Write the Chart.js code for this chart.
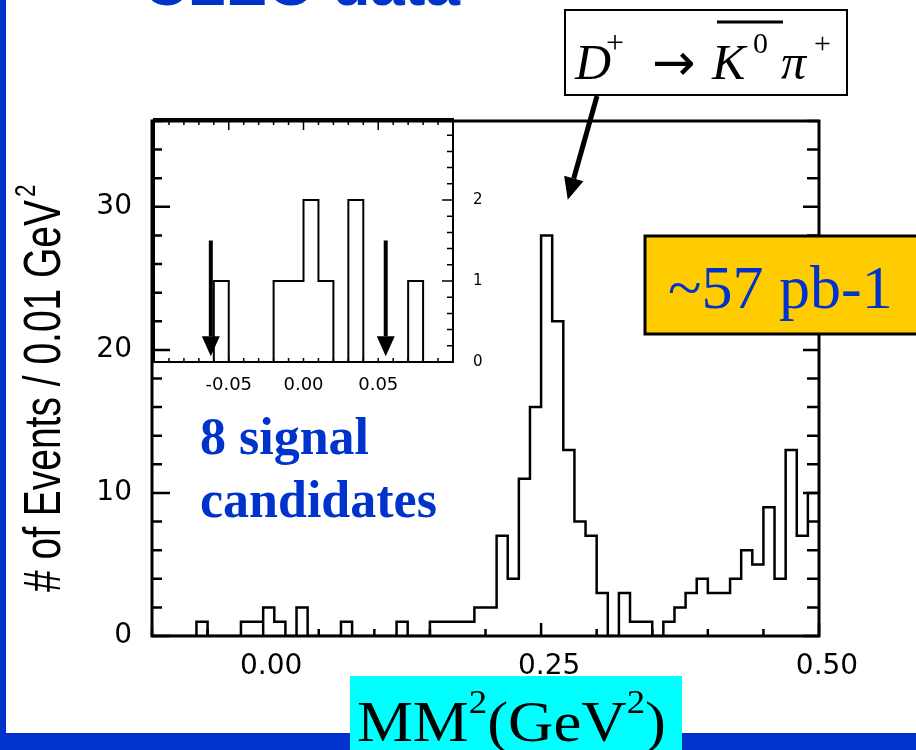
<!DOCTYPE html>
<html>
<head>
<meta charset="utf-8">
<title>CLEO data - missing mass squared</title>
<script src="https://cdn.jsdelivr.net/npm/chart.js@4"></script>
<style>
  body { margin: 0; background: #fff; }
  #wrap { position: relative; width: 916px; height: 750px; overflow: hidden; }
  #wrap canvas { position: absolute; left: 0; top: 0; }
</style>
</head>
<body>
<div id="wrap">
  <canvas id="mainChart" width="916" height="750"></canvas>
  <canvas id="insetChart" width="916" height="750"></canvas>
</div>
<script>
// MM^2 histogram, bins of 0.01 GeV^2 starting at -0.10
const binStart = -0.1;
const binWidth = 0.01;
const eventCounts = [
  0, 0, 0, 0, 1, 0, 0, 0, 1, 1,
  2, 1, 0, 2, 0, 0, 0, 1, 0, 0,
  0, 0, 1, 0, 0, 1, 1, 1, 1, 2,
  2, 7, 4, 11, 16, 28, 22, 13, 8, 7,
  3, 0, 3, 1, 1, 0, 1, 2, 3, 4,
  3, 3, 4, 6, 5, 9, 4, 13, 7, 10
];

const xTickValues = [0, 0.25, 0.5];
const yTickValues = [0, 10, 20, 30];
const insetXTickValues = [-0.05, 0, 0.05];
const insetYTickValues = [0, 1, 2];
const insetArrowX = [-0.062, 0.055];   // signal region markers in the inset
const peakArrowTip = { x: 0.274, y: 30.5 };

const blue = '#0033cc';
const serif = '"Liberation Serif", "Times New Roman", serif';
const sans = '"Liberation Sans", Arial, sans-serif';

// outline points: left and right edge of every bin
function outline(lo, hi) {
  const pts = [];
  eventCounts.forEach((c, i) => {
    const left = Math.round((binStart + i * binWidth) * 100) / 100;
    if (left >= lo - 1e-9 && left < hi - 1e-9) {
      pts.push({ x: left, y: c });
      pts.push({ x: Math.round((left + binWidth) * 100) / 100, y: c });
    }
  });
  return pts;
}

function arrow(ctx, x0, y0, x1, y1, w, head, half) {
  const dx = x1 - x0, dy = y1 - y0, L = Math.hypot(dx, dy);
  const ux = dx / L, uy = dy / L;
  const bx = x1 - ux * head, by = y1 - uy * head;
  ctx.lineWidth = w;
  ctx.beginPath(); ctx.moveTo(x0, y0); ctx.lineTo(bx, by); ctx.stroke();
  ctx.beginPath();
  ctx.moveTo(x1, y1);
  ctx.lineTo(bx - uy * half, by + ux * half);
  ctx.lineTo(bx + uy * half, by - ux * half);
  ctx.closePath();
  ctx.fill();
}

function txt(ctx, s, x, y, font, color) {
  ctx.font = font;
  ctx.fillStyle = color || '#000';
  ctx.fillText(s, x, y);
}

const mainDecor = {
  id: 'mainDecor',
  afterDraw(chart) {
    const { ctx, chartArea: a, scales: { x, y } } = chart;
    ctx.save();
    ctx.textBaseline = 'alphabetic';
    ctx.textAlign = 'left';

    // frame and inward ticks
    ctx.strokeStyle = '#000';
    ctx.fillStyle = '#000';
    ctx.lineWidth = 3;
    ctx.strokeRect(a.left, a.top, a.right - a.left, a.bottom - a.top);
    ctx.lineWidth = 2.5;
    ctx.beginPath();
    for (let k = -2; k <= 10; k++) {
      const px = x.getPixelForValue(k * 0.05);
      const len = k % 5 === 0 ? 13 : 7;
      ctx.moveTo(px, a.bottom); ctx.lineTo(px, a.bottom - len);
    }
    for (let v = 0; v <= 36; v += 2) {
      const py = y.getPixelForValue(v);
      const major = v % 10 === 0;
      ctx.moveTo(a.left, py); ctx.lineTo(a.left + (major ? 18 : 10), py);
      ctx.moveTo(a.right, py); ctx.lineTo(a.right - (major ? 16 : 12), py);
    }
    ctx.stroke();

    // y axis title, condensed
    ctx.save();
    ctx.translate(60, 592);
    ctx.rotate(-Math.PI / 2);
    ctx.font = '52px ' + sans;
    const yt = '# of Events / 0.01 GeV';
    const w = ctx.measureText(yt).width;
    ctx.scale(392 / w, 1);
    ctx.fillStyle = '#000';
    ctx.fillText(yt, 0, 0);
    ctx.font = '30px ' + sans;
    ctx.fillText('2', w + 4, -25);
    ctx.restore();

    // page title, cut at the top
    txt(ctx, 'CLEO data', 143, 5, 'bold 62px ' + sans, blue);

    // decay label box
    ctx.fillStyle = '#fff';
    ctx.fillRect(565, 10, 282, 85);
    ctx.lineWidth = 2;
    ctx.strokeRect(565, 10, 282, 85);
    txt(ctx, 'D', 575, 79, 'italic 50px ' + serif);
    txt(ctx, '+', 606, 53, '32px ' + serif);
    txt(ctx, '\u2192', 652, 80, '52px "DejaVu Sans", sans-serif');
    txt(ctx, 'K', 712, 79, 'italic 50px ' + serif);
    txt(ctx, '0', 753, 53, '30px ' + serif);
    txt(ctx, '\u03c0', 781, 79, 'italic 50px ' + serif);
    txt(ctx, '+', 814, 53, '30px ' + serif);
    ctx.lineWidth = 3;
    ctx.beginPath(); ctx.moveTo(717, 22); ctx.lineTo(783, 22); ctx.stroke();

    // arrow to the peak
    ctx.fillStyle = '#000';
    arrow(ctx, 597, 96, x.getPixelForValue(peakArrowTip.x), y.getPixelForValue(peakArrowTip.y), 5, 22, 10);

    // luminosity box
    ctx.fillStyle = '#ffcc00';
    ctx.fillRect(645, 236, 290, 98);
    ctx.lineWidth = 3;
    ctx.strokeRect(645, 236, 290, 98);
    txt(ctx, '~57 pb-1', 668, 308, '62px ' + serif, blue);

    // signal count
    txt(ctx, '8 signal', 200, 454, 'bold 52px ' + serif, blue);
    txt(ctx, 'candidates', 200, 517, 'bold 52px ' + serif, blue);

    // slide borders
    ctx.fillStyle = blue;
    ctx.fillRect(0, 0, 6, 750);
    ctx.fillRect(0, 733, 916, 17);

    // x axis title on cyan
    ctx.fillStyle = '#00ffff';
    ctx.fillRect(350, 676, 332, 74);
    const pieces = [
      { t: 'MM', f: 58, dy: 0 }, { t: '2', f: 34, dy: -28 },
      { t: '(GeV', f: 58, dy: 0 }, { t: '2', f: 34, dy: -28 }, { t: ')', f: 58, dy: 0 }
    ];
    let total = 0;
    pieces.forEach(p => { ctx.font = p.f + 'px ' + serif; p.w = ctx.measureText(p.t).width; total += p.w; });
    ctx.save();
    ctx.translate(357, 741);
    ctx.scale(309 / total, 1);
    let cx = 0;
    pieces.forEach(p => { txt(ctx, p.t, cx, p.dy, p.f + 'px ' + serif); cx += p.w; });
    ctx.restore();

    ctx.restore();
  }
};

const insetDecor = {
  id: 'insetDecor',
  afterDraw(chart) {
    const { ctx, chartArea: a, scales: { x, y } } = chart;
    ctx.save();
    ctx.strokeStyle = '#000';
    ctx.fillStyle = '#000';
    ctx.lineWidth = 2;
    ctx.strokeRect(a.left, a.top, a.right - a.left, a.bottom - a.top);
    ctx.lineWidth = 1.5;
    ctx.beginPath();
    for (let k = -10; k <= 10; k++) {
      const px = x.getPixelForValue(k * 0.01);
      ctx.moveTo(px, a.top); ctx.lineTo(px, a.top + (k % 5 === 0 ? 11 : 6));
      ctx.moveTo(px, a.bottom); ctx.lineTo(px, a.bottom - 4);
    }
    for (let k = 0; k <= 15; k++) {
      const py = y.getPixelForValue(k * 0.2);
      ctx.moveTo(a.right, py); ctx.lineTo(a.right - (k % 5 === 0 ? 11 : 6), py);
    }
    ctx.stroke();
    insetArrowX.forEach(v => {
      const px = x.getPixelForValue(v);
      arrow(ctx, px, y.getPixelForValue(1.5), px, y.getPixelForValue(0.07), 4, 20, 9);
    });
    ctx.restore();
  }
};

const tickFont = { family: 'DejaVu Sans', size: 28 };

new Chart(document.getElementById('mainChart'), {
  type: 'line',
  data: {
    datasets: [{
      data: outline(-0.1, 0.5),
      borderColor: '#000',
      borderWidth: 2.5,
      pointRadius: 0,
      fill: false,
      tension: 0
    }]
  },
  options: {
    responsive: false,
    animation: false,
    layout: { padding: { left: 0, top: 121, right: 97, bottom: 54 } },
    plugins: { legend: { display: false }, tooltip: { enabled: false } },
    scales: {
      x: {
        type: 'linear', min: -0.1, max: 0.5,
        grid: { display: false }, border: { display: false },
        afterBuildTicks: s => { s.ticks = xTickValues.map(v => ({ value: v })); },
        afterFit: s => { s.height = 60; },
        ticks: { color: '#000', font: tickFont, padding: 6, labelOffset: 8, maxRotation: 0, autoSkip: false,
                 callback: v => Number(v).toFixed(2) }
      },
      y: {
        type: 'linear', min: 0, max: 36,
        grid: { display: false }, border: { display: false },
        afterBuildTicks: s => { s.ticks = yTickValues.map(v => ({ value: v })); },
        afterFit: s => { s.width = 152; },
        ticks: { color: '#000', font: tickFont, padding: 12, autoSkip: false, callback: v => String(v) }
      }
    }
  },
  plugins: [mainDecor]
});

new Chart(document.getElementById('insetChart'), {
  type: 'line',
  data: {
    datasets: [{
      data: outline(-0.1, 0.1),
      borderColor: '#000',
      borderWidth: 2,
      pointRadius: 0,
      fill: false,
      tension: 0
    }]
  },
  options: {
    responsive: false,
    animation: false,
    layout: { padding: { left: 154, top: 119, right: 423, bottom: 358 } },
    plugins: { legend: { display: false }, tooltip: { enabled: false } },
    scales: {
      x: {
        type: 'linear', min: -0.1, max: 0.1,
        grid: { display: false }, border: { display: false },
        afterBuildTicks: s => { s.ticks = insetXTickValues.map(v => ({ value: v })); },
        afterFit: s => { s.height = 30; },
        ticks: { color: '#000', font: { family: 'DejaVu Sans', size: 18 }, padding: 5, maxRotation: 0, autoSkip: false,
                 callback: v => Number(v).toFixed(2) }
      },
      y: {
        type: 'linear', position: 'right', min: 0, max: 3,
        grid: { display: false }, border: { display: false },
        afterBuildTicks: s => { s.ticks = insetYTickValues.map(v => ({ value: v })); },
        afterFit: s => { s.width = 40; },
        ticks: { color: '#000', font: { family: 'DejaVu Sans', size: 15 }, padding: 12, autoSkip: false,
                 callback: v => String(v) }
      }
    }
  },
  plugins: [insetDecor]
});
</script>
</body>
</html>
